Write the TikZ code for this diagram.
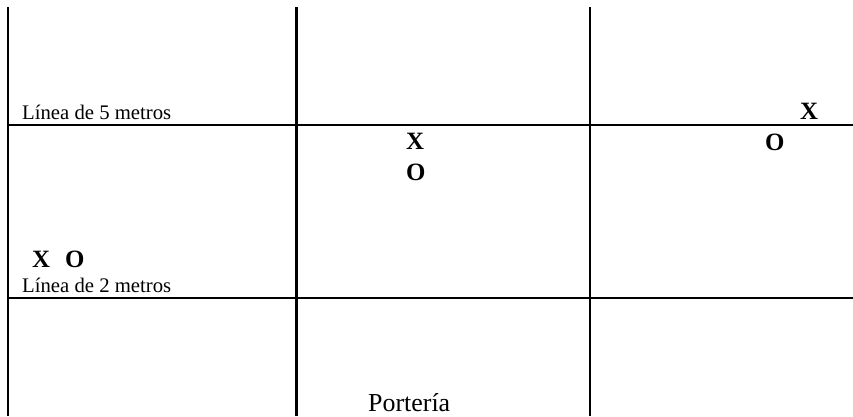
\documentclass[tikz,border=0pt]{standalone}
\usepackage{fontspec}
\setmainfont{Liberation Serif}
\begin{document}
\begin{tikzpicture}[x=1bp,y=-1bp,
  fieldline/.style={line width=2.1bp, black},
  lbl/.style={anchor=base west, inner sep=0pt, font=\fontsize{20.8}{24}\selectfont},
  goal/.style={anchor=base west, inner sep=0pt, font=\fontsize{26}{30}\selectfont},
  piece/.style={anchor=base west, inner sep=0pt, font=\fontsize{25}{29}\selectfont\bfseries}]
\useasboundingbox (0,0) rectangle (853,416);
% field lines
\coordinate (v1t) at (8,7);     \coordinate (v1b) at (8,416);
\coordinate (v2t) at (296.5,7); \coordinate (v2b) at (296.5,416);
\coordinate (v3t) at (590,7);   \coordinate (v3b) at (590,416);
\coordinate (h1l) at (8,125);   \coordinate (h1r) at (853,125);
\coordinate (h2l) at (8,298);   \coordinate (h2r) at (853,298);
\draw[fieldline] (v1t) -- (v1b);
\draw[fieldline] (v2t) -- (v2b);
\draw[fieldline] (v3t) -- (v3b);
\draw[fieldline] (h1l) -- (h1r);
\draw[fieldline] (h2l) -- (h2r);
% labels
\node[lbl] (l5) at (22,119) {Línea de 5 metros};
\node[lbl] (l2) at (22,292.5) {Línea de 2 metros};
\node[goal] (port) at (368,411) {Portería};
% pieces
\node[piece] (xa) at (32,267) {X};
\node[piece] (oa) at (65,267) {O};
\node[piece] (xb) at (406,149) {X};
\node[piece] (ob) at (406,180) {O};
\node[piece] (xc) at (800,119) {X};
\node[piece] (oc) at (765,150) {O};
\end{tikzpicture}
\end{document}
